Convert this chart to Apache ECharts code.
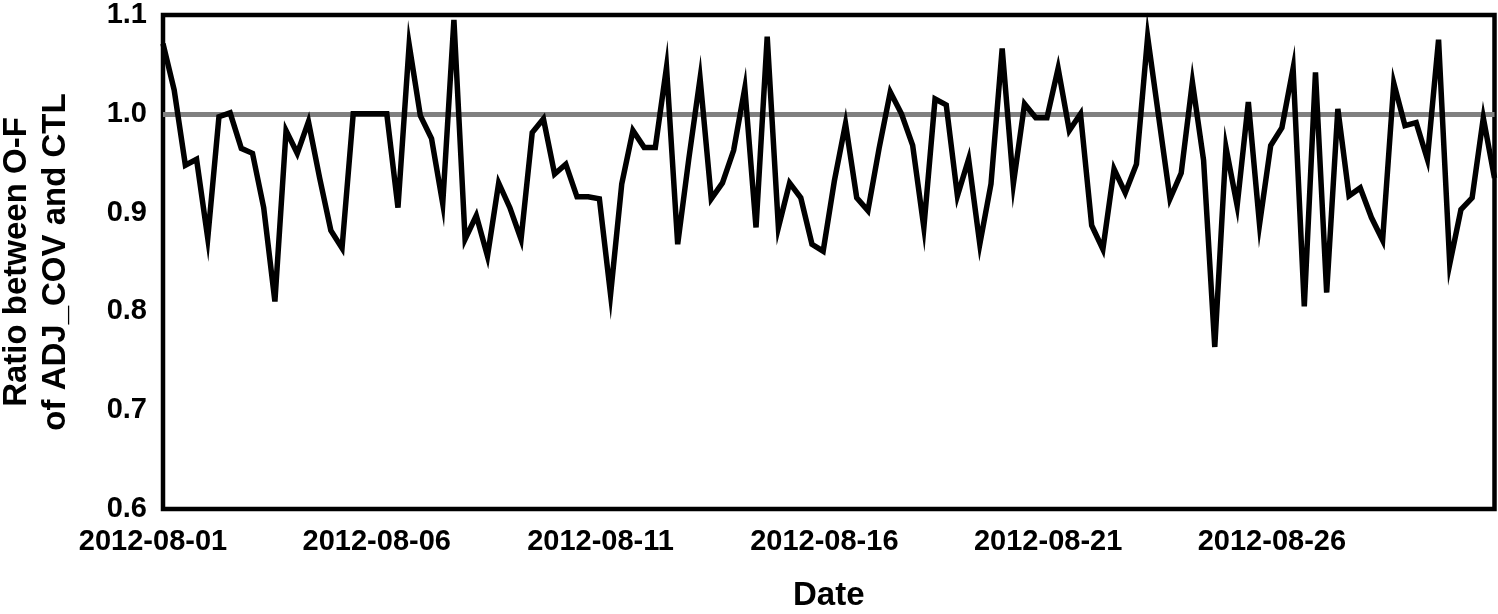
<!DOCTYPE html>
<html>
<head>
<meta charset="utf-8">
<title>Ratio between O-F of ADJ_COV and CTL</title>
<script src="https://cdn.jsdelivr.net/npm/echarts@6/dist/echarts.min.js"></script>
<style>
    html, body { margin: 0; padding: 0; background: #fff; }
    #chart { width: 1498px; height: 614px; }
</style>
</head>
<body>
<div id="chart"></div>
<script>
// 6-hourly samples, 2012-08-01 00:00 .. 2012-08-30 18:00
var START_DAY = '2012-08-';
var DAY_COUNT = 30;
var HOURS = ['00', '06', '12', '18'];

var RATIO = [
    1.071, 1.024, 0.948, 0.954, 0.874, 0.997, 1.001, 0.965, 0.960, 0.905,
    0.810, 0.983, 0.960, 0.992, 0.935, 0.882, 0.864, 1.000, 1.000, 1.000,
    1.000, 0.905, 1.070, 0.998, 0.975, 0.909, 1.095, 0.873, 0.897, 0.856,
    0.930, 0.905, 0.873, 0.981, 0.995, 0.939, 0.949, 0.916, 0.916, 0.914,
    0.817, 0.929, 0.983, 0.966, 0.966, 1.047, 0.868, 0.955, 1.036, 0.914,
    0.930, 0.963, 1.026, 0.885, 1.078, 0.885, 0.930, 0.915, 0.868, 0.861,
    0.932, 0.990, 0.915, 0.902, 0.965, 1.022, 1.000, 0.968, 0.885, 1.015,
    1.009, 0.917, 0.954, 0.868, 0.929, 1.066, 0.929, 1.010, 0.996, 0.996,
    1.046, 0.983, 1.000, 0.887, 0.863, 0.944, 0.920, 0.949, 1.078, 0.996,
    0.914, 0.940, 1.032, 0.953, 0.764, 0.966, 0.907, 1.012, 0.888, 0.968,
    0.986, 1.046, 0.805, 1.042, 0.819, 1.005, 0.917, 0.925, 0.895, 0.872,
    1.031, 0.988, 0.991, 0.954, 1.075, 0.848, 0.903, 0.915, 0.996, 0.935
];

var REF_LINE = 1.0;
var Y_MIN = 0.6, Y_MAX = 1.1, Y_STEP = 0.1;

var FONT = "'Liberation Sans', Arial, Helvetica, sans-serif";

function build_dates(){
    var list = [];
    for (var d = 1; d <= DAY_COUNT; d++) {
        var day = (d < 10 ? '0' : '') + d;
        HOURS.forEach(function (h) {
            list.push(START_DAY + day + ' ' + h + ':00');
        });
    }
    return list;
}

var dateList = build_dates();

var chart = echarts.init(document.getElementById('chart'));

var options = {
    animation: false,
    grid: {
        left: 163,
        right: 3.5,
        top: 15,
        bottom: 105,
        outerBoundsMode: 'none',
        containLabel: false,
        show: true,
        borderColor: '#000',
        borderWidth: 4.5,
        backgroundColor: 'transparent'
    },
    xAxis: {
        type: 'category',
        data: dateList,
        boundaryGap: false,
        name: 'Date',
        nameLocation: 'middle',
        nameGap: 70,
        nameTextStyle: { fontFamily: FONT, fontSize: 33, fontWeight: 'bold', color: '#000' },
        axisLine: { show: false },
        axisTick: { show: false },
        splitLine: { show: false },
        axisLabel: {
            interval: 19,
            margin: 18,
            padding: [0, 20, 0, 0],
            fontFamily: FONT,
            fontSize: 29,
            fontWeight: 'bold',
            color: '#000',
            formatter: function (value) {
                return value.split(' ')[0];
            }
        }
    },
    yAxis: {
        type: 'value',
        min: Y_MIN,
        max: Y_MAX,
        interval: Y_STEP,
        name: 'Ratio between O-F\nof ADJ_COV and CTL',
        nameLocation: 'middle',
        nameGap: 88,
        nameTextStyle: { fontFamily: FONT, fontSize: 33, fontWeight: 'bold', color: '#000', lineHeight: 39 },
        axisLine: { show: false },
        axisTick: { show: false },
        splitLine: { show: false },
        axisLabel: {
            margin: 16,
            fontFamily: FONT,
            fontSize: 29,
            fontWeight: 'bold',
            color: '#000',
            formatter: function (value) {
                return value.toFixed(1);
            }
        }
    },
    series: [{
        type: 'line',
        name: 'Ratio',
        data: RATIO,
        symbol: 'none',
        smooth: false,
        lineStyle: { color: '#000', width: 5.5, join: 'miter' },
        z: 3,
        markLine: {
            silent: true,
            symbol: 'none',
            label: { show: false },
            lineStyle: { color: '#808080', width: 5, type: 'solid' },
            data: [{ yAxis: REF_LINE }],
            z: 2
        }
    }]
};

chart.setOption(options);
</script>
</body>
</html>
